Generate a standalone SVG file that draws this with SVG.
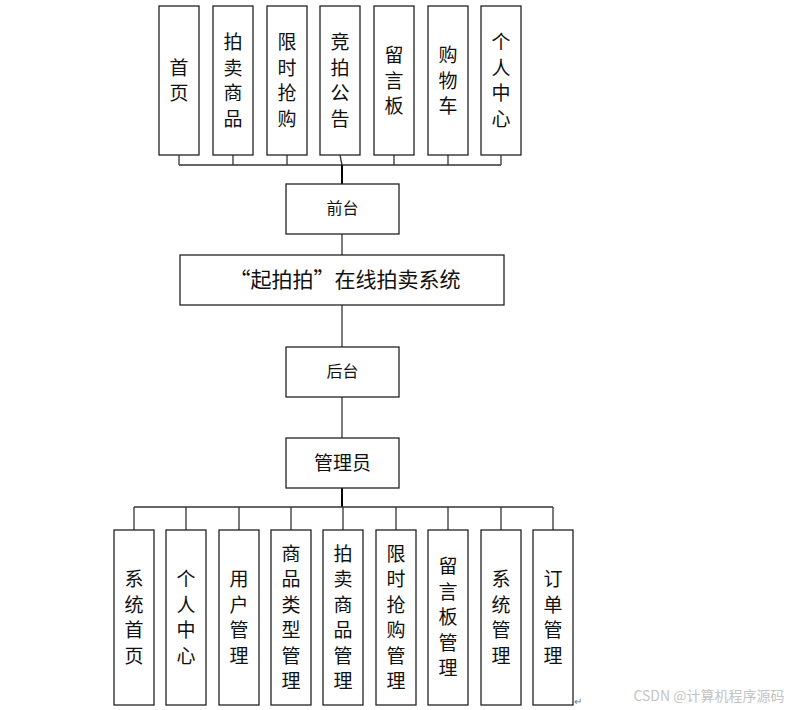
<svg xmlns="http://www.w3.org/2000/svg" width="794" height="710" viewBox="0 0 794 710">
<style>
rect.b{fill:#fff;stroke:#222;stroke-width:1.3}
text{font-family:"Noto Sans CJK SC","Liberation Sans",sans-serif;fill:#111;text-anchor:middle;dominant-baseline:central;transform:translateY(-2px)}
.v{font-size:19px}
.c line{stroke:#333;stroke-width:1.3}
.c line.k{stroke:#000;stroke-width:2}
</style>
<rect width="794" height="710" fill="#fff"/>
<g class="c" id="connectors">
<line x1="179" y1="155" x2="179" y2="165"/><line x1="233" y1="155" x2="233" y2="165"/><line x1="287" y1="155" x2="287" y2="165"/><line x1="340" y1="155" x2="342" y2="165"/><line x1="394" y1="155" x2="394" y2="165"/><line x1="448" y1="155" x2="448" y2="165"/><line x1="501" y1="155" x2="501" y2="165"/>
<line x1="179" y1="165" x2="501" y2="165"/>
<line class="k" x1="342" y1="165" x2="342" y2="184"/>
<line x1="342" y1="234" x2="342" y2="255"/>
<line x1="342" y1="305" x2="342" y2="347"/>
<line x1="342" y1="397" x2="342" y2="438"/>
<line class="k" x1="342" y1="488" x2="342" y2="507"/>
<line x1="134" y1="507" x2="553" y2="507"/>
<line x1="134" y1="507" x2="134" y2="530"/><line x1="186" y1="507" x2="186" y2="530"/><line x1="239" y1="507" x2="239" y2="530"/><line x1="291" y1="507" x2="291" y2="530"/><line x1="343" y1="507" x2="343" y2="530"/><line x1="396" y1="507" x2="396" y2="530"/><line x1="448" y1="507" x2="448" y2="530"/><line x1="501" y1="507" x2="501" y2="530"/><line x1="553" y1="507" x2="553" y2="530"/>
</g>
<g id="t1"><rect class="b" x="159" y="6" width="40" height="149"/><text class="v" x="179"><tspan x="179" y="67.5">首</tspan><tspan x="179" y="93">页</tspan></text></g>
<g id="t2"><rect class="b" x="213" y="6" width="40" height="149"/><text class="v"><tspan x="233" y="42">拍</tspan><tspan x="233" y="67.5">卖</tspan><tspan x="233" y="93">商</tspan><tspan x="233" y="118.5">品</tspan></text></g>
<g id="t3"><rect class="b" x="267" y="6" width="40" height="149"/><text class="v"><tspan x="287" y="42">限</tspan><tspan x="287" y="67.5">时</tspan><tspan x="287" y="93">抢</tspan><tspan x="287" y="118.5">购</tspan></text></g>
<g id="t4"><rect class="b" x="320" y="6" width="40" height="149"/><text class="v"><tspan x="340" y="42">竞</tspan><tspan x="340" y="67.5">拍</tspan><tspan x="340" y="93">公</tspan><tspan x="340" y="118.5">告</tspan></text></g>
<g id="t5"><rect class="b" x="374" y="6" width="40" height="149"/><text class="v"><tspan x="394" y="55">留</tspan><tspan x="394" y="80.5">言</tspan><tspan x="394" y="106">板</tspan></text></g>
<g id="t6"><rect class="b" x="428" y="6" width="40" height="149"/><text class="v"><tspan x="448" y="55">购</tspan><tspan x="448" y="80.5">物</tspan><tspan x="448" y="106">车</tspan></text></g>
<g id="t7"><rect class="b" x="481" y="6" width="40" height="149"/><text class="v"><tspan x="501" y="42">个</tspan><tspan x="501" y="67.5">人</tspan><tspan x="501" y="93">中</tspan><tspan x="501" y="118.5">心</tspan></text></g>
<g id="qiantai"><rect class="b" x="286" y="184" width="113" height="50"/><text x="342.5" y="209" style="font-size:16px">前台</text></g>
<g id="system"><rect class="b" x="180" y="255" width="324" height="50"/><text x="345" y="280" style="font-size:21px">“起拍拍”在线拍卖系统</text></g>
<g id="houtai"><rect class="b" x="286" y="347" width="113" height="50"/><text x="342.5" y="372" style="font-size:16px">后台</text></g>
<g id="admin"><rect class="b" x="286" y="438" width="113" height="50"/><text x="342.5" y="463" style="font-size:19px">管理员</text></g>
<g id="b1"><rect class="b" x="114" y="530" width="40" height="175"/><text class="v"><tspan x="134" y="579">系</tspan><tspan x="134" y="604.5">统</tspan><tspan x="134" y="630">首</tspan><tspan x="134" y="655.5">页</tspan></text></g>
<g id="b2"><rect class="b" x="166" y="530" width="40" height="175"/><text class="v"><tspan x="186" y="579">个</tspan><tspan x="186" y="604.5">人</tspan><tspan x="186" y="630">中</tspan><tspan x="186" y="655.5">心</tspan></text></g>
<g id="b3"><rect class="b" x="219" y="530" width="40" height="175"/><text class="v"><tspan x="239" y="579">用</tspan><tspan x="239" y="604.5">户</tspan><tspan x="239" y="630">管</tspan><tspan x="239" y="655.5">理</tspan></text></g>
<g id="b4"><rect class="b" x="271" y="530" width="40" height="175"/><text class="v"><tspan x="291" y="553.5">商</tspan><tspan x="291" y="579">品</tspan><tspan x="291" y="604.5">类</tspan><tspan x="291" y="630">型</tspan><tspan x="291" y="655.5">管</tspan><tspan x="291" y="681">理</tspan></text></g>
<g id="b5"><rect class="b" x="323" y="530" width="40" height="175"/><text class="v"><tspan x="343" y="553.5">拍</tspan><tspan x="343" y="579">卖</tspan><tspan x="343" y="604.5">商</tspan><tspan x="343" y="630">品</tspan><tspan x="343" y="655.5">管</tspan><tspan x="343" y="681">理</tspan></text></g>
<g id="b6"><rect class="b" x="376" y="530" width="40" height="175"/><text class="v"><tspan x="396" y="553.5">限</tspan><tspan x="396" y="579">时</tspan><tspan x="396" y="604.5">抢</tspan><tspan x="396" y="630">购</tspan><tspan x="396" y="655.5">管</tspan><tspan x="396" y="681">理</tspan></text></g>
<g id="b7"><rect class="b" x="428" y="530" width="40" height="175"/><text class="v"><tspan x="448" y="566">留</tspan><tspan x="448" y="591.5">言</tspan><tspan x="448" y="617">板</tspan><tspan x="448" y="642.5">管</tspan><tspan x="448" y="668">理</tspan></text></g>
<g id="b8"><rect class="b" x="481" y="530" width="40" height="175"/><text class="v"><tspan x="501" y="579">系</tspan><tspan x="501" y="604.5">统</tspan><tspan x="501" y="630">管</tspan><tspan x="501" y="655.5">理</tspan></text></g>
<g id="b9"><rect class="b" x="533" y="530" width="40" height="175"/><text class="v"><tspan x="553" y="579">订</tspan><tspan x="553" y="604.5">单</tspan><tspan x="553" y="630">管</tspan><tspan x="553" y="655.5">理</tspan></text></g>
<text x="578" y="702" style="font-size:10px;fill:#777">↵</text>
<text x="709" y="697" style="font-size:14px;fill:#c4c4c4">CSDN @计算机程序源码</text>
</svg>
